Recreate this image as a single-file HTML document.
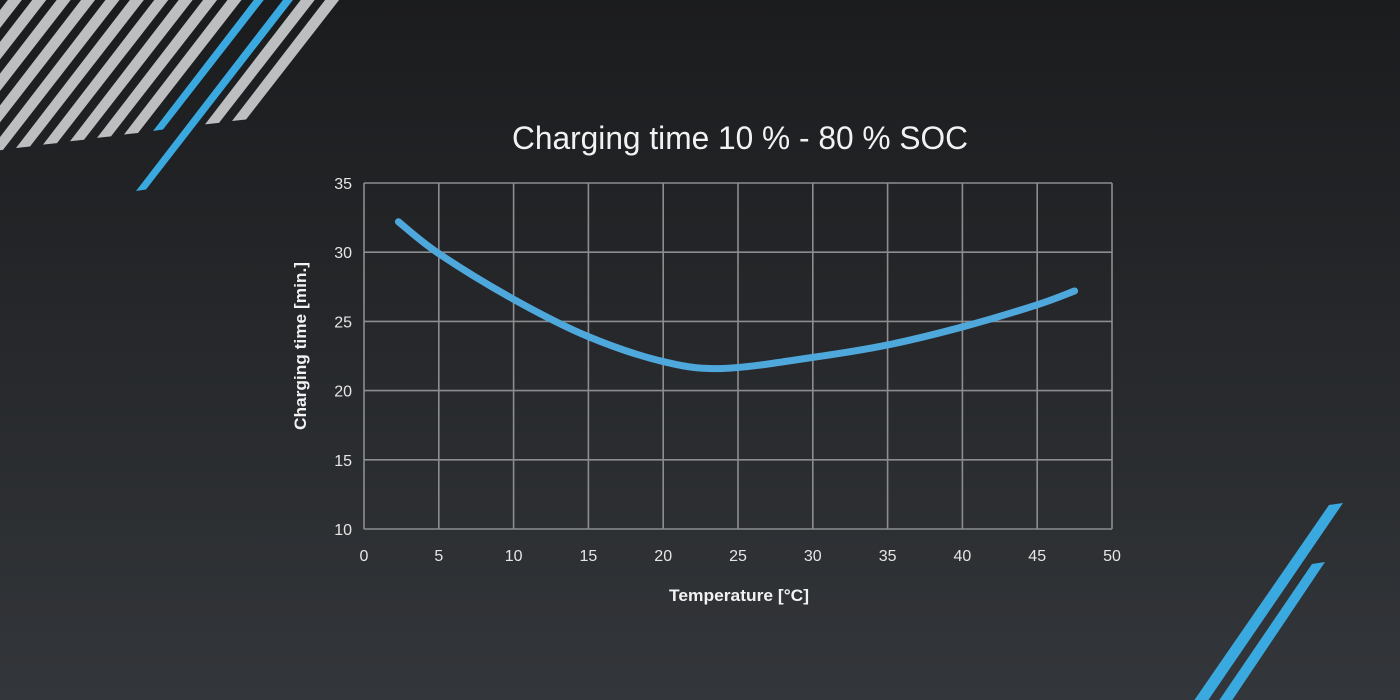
<!DOCTYPE html>
<html><head><meta charset="utf-8">
<style>
html,body{margin:0;padding:0;}
body{width:1400px;height:700px;overflow:hidden;background:linear-gradient(180deg,#1b1c1e 0%,#25272a 45%,#33363a 100%);font-family:"Liberation Sans",sans-serif;}
svg{position:absolute;left:0;top:0;}
</style></head>
<body>
<svg id="chart" width="1400" height="700">
  <g id="deco"></g>
  <text x="740" y="149" text-anchor="middle" fill="#f2f2f2" font-size="32" textLength="456" lengthAdjust="spacingAndGlyphs">Charging time 10 % - 80 % SOC</text>
  <g id="grid"></g>
  <g id="xticks"></g>
  <g id="yticks"></g>
  <text x="739" y="601" text-anchor="middle" fill="#f2f2f2" font-size="17" font-weight="bold" textLength="140" lengthAdjust="spacingAndGlyphs">Temperature [°C]</text>
  <text transform="translate(306,346) rotate(-90)" text-anchor="middle" fill="#f2f2f2" font-size="17" font-weight="bold" textLength="168" lengthAdjust="spacingAndGlyphs">Charging time [min.]</text>
  <path id="curve" fill="none" stroke="#4fa8dc" stroke-width="7" stroke-linecap="round"/>
</svg>
<script>
const temps = [2.3, 5, 10, 15, 20, 24, 30, 35, 40, 45, 47.5];
const times = [32.2, 29.9, 26.6, 23.9, 22.1, 21.6, 22.4, 23.3, 24.6, 26.2, 27.2];
const xTicks = [0,5,10,15,20,25,30,35,40,45,50];
const yTicks = [10,15,20,25,30,35];

const NS="http://www.w3.org/2000/svg";
const X0=364,X1=1112,Y0=529,Y1=183;
const xs=v=>X0+(v-0)/(50-0)*(X1-X0);
const ys=v=>Y0-(v-10)/(35-10)*(Y0-Y1);
function mk(tag,attrs,parent){const e=document.createElementNS(NS,tag);for(const k in attrs)e.setAttribute(k,attrs[k]);parent.appendChild(e);return e;}
const grid=document.getElementById('grid'),gx=document.getElementById('xticks'),gy=document.getElementById('yticks');
xTicks.forEach(t=>{
  const l=mk('line',{x1:xs(t),x2:xs(t),y1:Y1,y2:Y0,stroke:'#8c8d8f','stroke-width':1.6},grid);
  
  
  const tx=mk('text',{x:xs(t),y:Y0+32,'text-anchor':'middle',fill:'#e6e6e6','font-size':16},gx);
  tx.textContent=t;
  
  
});
yTicks.forEach(t=>{
  const l=mk('line',{x1:X0,x2:X1,y1:ys(t),y2:ys(t),stroke:'#8c8d8f','stroke-width':1.6},grid);
  
  
  const tx=mk('text',{x:X0-12,y:ys(t)+6,'text-anchor':'end',fill:'#e6e6e6','font-size':16},gy);
  tx.textContent=t;
  
  
});
const P=temps.map((t,i)=>[xs(t),ys(times[i])]);
let d='M'+P[0][0]+','+P[0][1];
for(let i=0;i<P.length-1;i++){
  const p0=P[i-1]||P[i],p1=P[i],p2=P[i+1],p3=P[i+2]||P[i+1];
  const c1=[p1[0]+(p2[0]-p0[0])/6,p1[1]+(p2[1]-p0[1])/6];
  const c2=[p2[0]-(p3[0]-p1[0])/6,p2[1]-(p3[1]-p1[1])/6];
  d+=` C${c1[0]},${c1[1]} ${c2[0]},${c2[1]} ${p2[0]},${p2[1]}`;
}
document.getElementById('curve').setAttribute('d',d);

const deco=document.getElementById('deco');
const k=100/130;
function stripe(bx,by,w,col,topY){
  const tx=bx+(by-topY)*k;
  const p=mk('polygon',{points:`${bx},${by} ${bx+w},${by-1.5} ${tx+w},${topY} ${tx},${topY}`,fill:col},deco);
  
  
}
for(let i=-8;i<=8;i++){
  const bx=18+i*27;
  if(i===5||i===6) continue;
  const by=148-(bx-18)*0.125;
  stripe(bx-2,by,14,'#bdbec0',0);
}
stripe(153,131,10,'#3aa9e0',0);
stripe(136,191,10,'#3aa9e0',0);
function stripeBR(bx,by,tx,ty,w){
  const p=mk('polygon',{points:`${bx},${by} ${bx+w},${by} ${tx+w},${ty} ${tx},${ty+2}`,fill:'#3aa9e0'},deco);
  
  
}
stripeBR(1193,702,1329,503,14);
stripeBR(1218,702,1312,562,13);
</script>
</body></html>
